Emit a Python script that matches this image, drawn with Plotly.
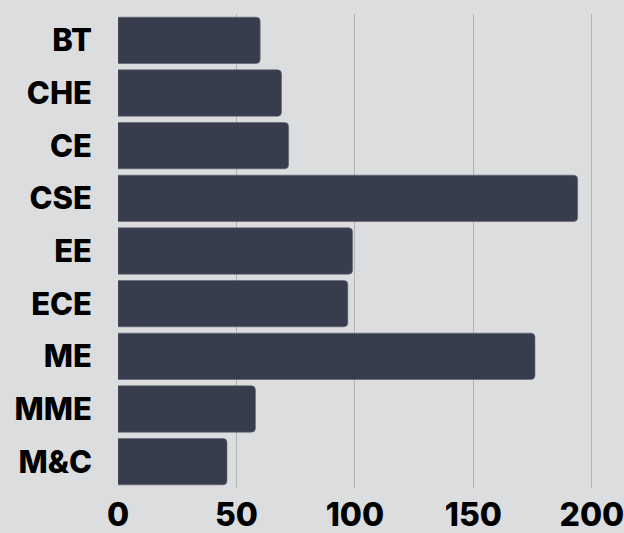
import plotly.graph_objects as go

departments = ["BT", "CHE", "CE", "CSE", "EE", "ECE", "ME", "MME", "M&C"]
counts = [60, 69, 72, 194, 99, 97, 176, 58, 46]
x_ticks = [0, 50, 100, 150, 200]

fig = go.Figure(go.Bar(
    x=counts, y=departments, orientation="h",
    marker=dict(color="#383d4e", line=dict(color="#5c616e", width=0.6)),
))
fig.update_layout(
    width=624, height=533,
    paper_bgcolor="#dcdddf", plot_bgcolor="#dcdddf",
    margin=dict(l=118, r=31, t=14, b=45),
    bargap=0.12, barcornerradius=4,
    showlegend=False,
    font=dict(family="Inter", color="#000000", weight=800),
)
fig.update_xaxes(
    range=[0, 200.5], tickvals=x_ticks, showgrid=True, gridcolor="#b3b3b3", gridwidth=1,
    zeroline=False, showline=False, automargin=False, ticklabeloverflow="allow",
    tickfont=dict(size=32, family="Inter", weight=800, color="#000"),
    ticklabelstandoff=5,
)
fig.update_yaxes(
    autorange="reversed", showgrid=False, zeroline=False, showline=False, automargin=False,
    tickfont=dict(size=31, family="Inter", weight=800, color="#000"),
    ticklabelstandoff=25,
)
fig.write_html("out.html", config={"displayModeBar": False},
               post_script="document.body.style.margin='0';document.body.style.overflow='hidden';")
